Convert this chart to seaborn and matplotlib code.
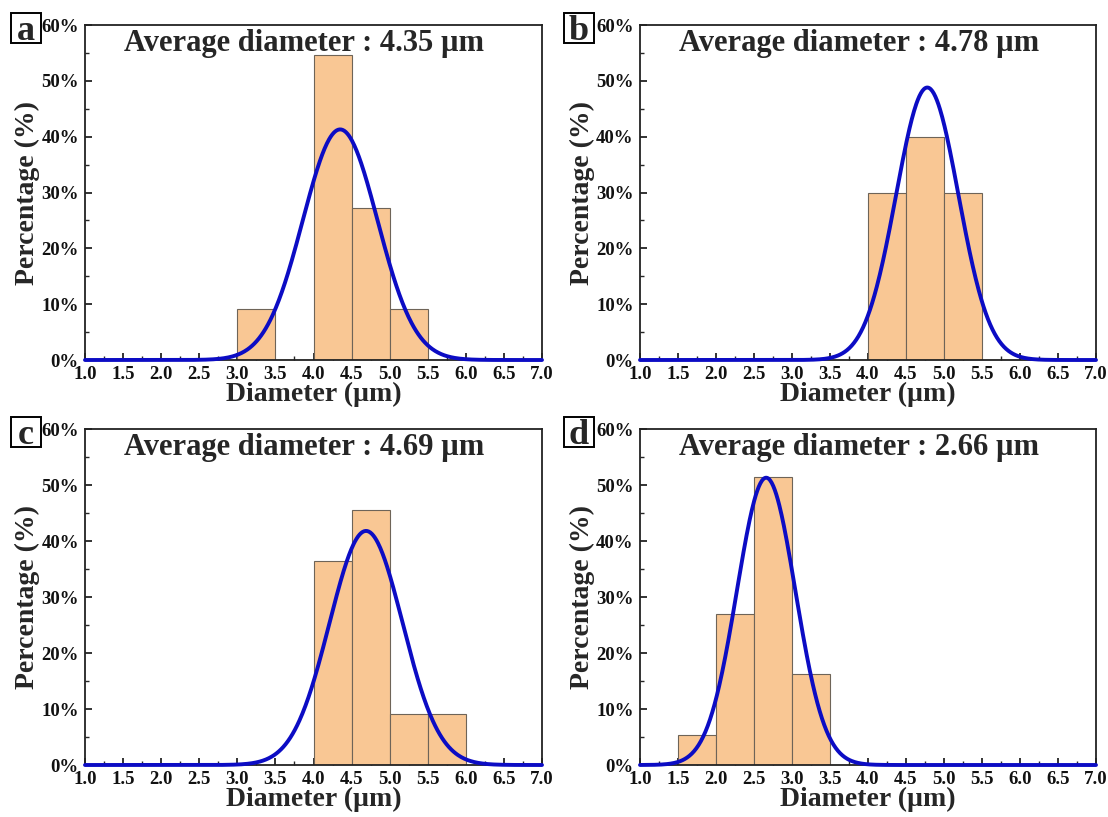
import numpy as np
import pandas as pd
import seaborn as sns
import matplotlib.pyplot as plt
from matplotlib.patches import Rectangle
from matplotlib.ticker import MultipleLocator, FuncFormatter

sns.set_style("ticks")
plt.rcParams['font.family'] = ['Liberation Serif', 'DejaVu Serif']
plt.rcParams['font.weight'] = 'bold'
plt.rcParams['mathtext.default'] = 'regular'

# ---- data ----
panel_letters = ["a", "b", "c", "d"]
mean_diameters = [4.35, 4.78, 4.69, 2.66]

# bin centres (µm) and percentages
a_centers = [3.25, 3.75, 4.25, 4.75, 5.25]
a_percent = [9.09, 0.0, 54.55, 27.27, 9.09]
b_centers = [4.25, 4.75, 5.25]
b_percent = [30.0, 40.0, 30.0]
c_centers = [4.25, 4.75, 5.25, 5.75]
c_percent = [36.36, 45.45, 9.09, 9.09]
d_centers = [1.75, 2.25, 2.75, 3.25]
d_percent = [5.41, 27.03, 51.35, 16.22]

# Gaussian fit parameters: (centre, sigma, peak %)
fit_centre = [4.35, 4.78, 4.69, 2.66]
fit_sigma = [0.49, 0.41, 0.48, 0.385]
fit_peak = [41.3, 48.8, 41.8, 51.3]

x_ticks = [1.0, 1.5, 2.0, 2.5, 3.0, 3.5, 4.0, 4.5, 5.0, 5.5, 6.0, 6.5, 7.0]
y_ticks = [0, 10, 20, 30, 40, 50, 60]

centers_all = [a_centers, b_centers, c_centers, d_centers]
percent_all = [a_percent, b_percent, c_percent, d_percent]

W, H = 1108, 817
fig = plt.figure(figsize=(W / 100, H / 100), dpi=100)

# axes boxes in pixels: (left, right, top, bottom)
boxes = [(85, 542, 25, 360), (640, 1096, 25, 360),
         (85, 542, 429, 765), (640, 1096, 429, 765)]
# panel-letter boxes in pixels: (left, top, size)
letter_boxes = [(11, 13, 30), (564, 13, 30), (11, 417, 30), (564, 417, 30)]

bar_color = "#F9C794"
line_color = "#0C0CC4"

for i in range(4):
    l, r, t, b = boxes[i]
    ax = fig.add_axes([l / W, 1 - b / H, (r - l) / W, (b - t) / H])
    df = pd.DataFrame({"d": centers_all[i], "p": percent_all[i]})
    lo = min(centers_all[i]) - 0.25
    hi = max(centers_all[i]) + 0.25
    sns.histplot(data=df, x="d", weights="p", binwidth=0.5, binrange=(lo, hi),
                 ax=ax, color=bar_color, alpha=1.0, edgecolor="#6e6458",
                 linewidth=0.8, zorder=2)
    xs = np.linspace(1.0, 7.0, 600)
    ys = fit_peak[i] * np.exp(-(xs - fit_centre[i]) ** 2 / (2 * fit_sigma[i] ** 2))
    sns.lineplot(x=xs, y=ys, ax=ax, color=line_color, linewidth=2.8,
                 zorder=4, clip_on=False)

    ax.set_xlim(1.0, 7.0)
    ax.set_ylim(0, 60)
    ax.set_xticks(x_ticks)
    ax.set_yticks(y_ticks)
    ax.xaxis.set_minor_locator(MultipleLocator(0.25))
    ax.yaxis.set_minor_locator(MultipleLocator(5))
    ax.xaxis.set_major_formatter(FuncFormatter(lambda v, p: f"{v:.1f}"))
    ax.yaxis.set_major_formatter(FuncFormatter(lambda v, p: f"{v:.0f}%"))
    ax.tick_params(which="major", direction="in", length=5, width=1.2,
                   labelsize=13.5, colors="#111111")
    ax.tick_params(axis="x", which="major", pad=4.5)
    ax.tick_params(axis="y", which="major", pad=4.5)
    ax.tick_params(which="minor", direction="in", length=3, width=1.0)
    for lab in ax.get_xticklabels() + ax.get_yticklabels():
        lab.set_fontweight("bold")
    for s in ax.spines.values():
        s.set_visible(True)
        s.set_linewidth(1.3)
        s.set_color("#222222")
    ax.set_xlabel("Diameter (µm)", fontsize=20, fontweight="bold", labelpad=-1)
    ax.set_ylabel("Percentage (%)", fontsize=20, fontweight="bold", labelpad=1)
    ax.text(0.48, 0.945, f"Average diameter : {mean_diameters[i]:.2f} µm",
            transform=ax.transAxes, ha="center", va="center",
            fontsize=22, fontweight="bold", zorder=6)

    bl, bt, bs = letter_boxes[i]
    fig.patches.append(Rectangle((bl / W, 1 - (bt + bs) / H), bs / W, bs / H,
                                 transform=fig.transFigure, fill=False,
                                 edgecolor="black", linewidth=1.4))
    fig.text((bl + bs / 2) / W, 1 - (bt + bs - 3) / H, panel_letters[i],
             ha="center", va="baseline", fontsize=26, fontweight="bold")

fig.savefig("out.png", dpi=100)
